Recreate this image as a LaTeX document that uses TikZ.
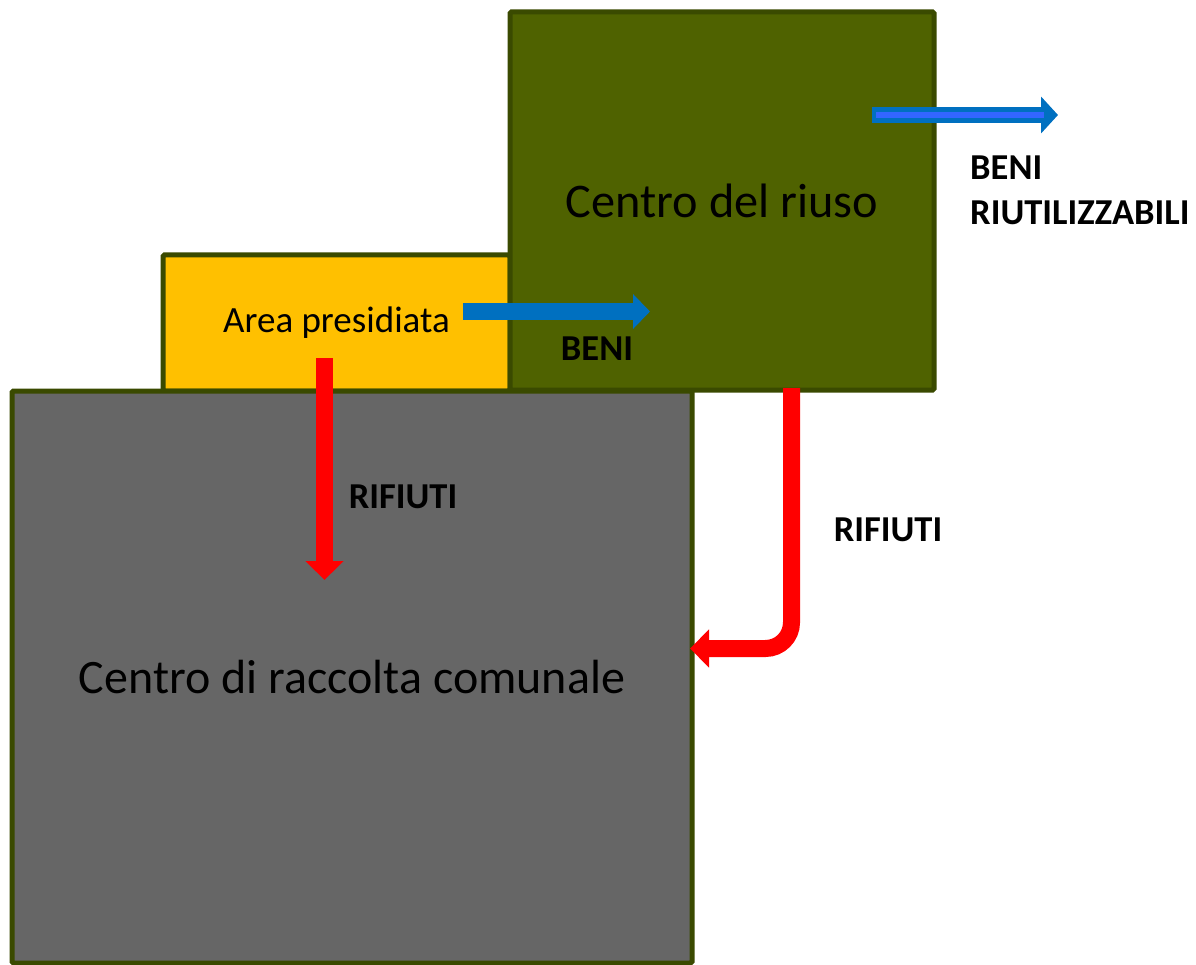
\documentclass[tikz,border=0pt]{standalone}
\usepackage{fontspec}
\setmainfont{Carlito}
\usepackage{xcolor}
\usetikzlibrary{arrows.meta}

\definecolor{olivebox}{RGB}{79,98,0}
\definecolor{olivedark}{RGB}{58,74,0}
\definecolor{yellowbox}{RGB}{255,192,0}
\definecolor{graybox}{RGB}{102,102,102}
\definecolor{bluearrow}{RGB}{0,112,192}
\definecolor{bluelight}{RGB}{51,102,255}
\definecolor{redarrow}{RGB}{255,0,0}

\tikzset{
  area/.style={draw=olivedark, line width=5pt, rounded corners=1.5pt, inner sep=0pt},
  blueflow/.style={draw=bluearrow, line width=16pt, -{Triangle[width=36pt,length=17pt]}},
  redflow/.style={draw=redarrow, line width=17pt, -{Triangle[width=37pt,length=19pt]}},
  flowlabel/.style={font=\fontsize{36.5}{45}\selectfont\bfseries, text=black, inner sep=0pt}
}

\begin{document}
\begin{tikzpicture}[x=1pt, y=-1pt]
\useasboundingbox (0,0) rectangle (1196,965);

% le tre aree
\node (presidio) [area, fill=yellowbox, minimum width=347pt, minimum height=136pt,
  font=\fontsize{37}{44}\selectfont] at (336.5,323) {Area presidiata};
\node (raccolta) [area, fill=graybox, minimum width=680pt, minimum height=572pt,
  font=\fontsize{48}{58}\selectfont] at (352,677) {Centro di raccolta comunale};
\node (riuso) [area, fill=olivebox, minimum width=424pt, minimum height=378pt,
  font=\fontsize{48.3}{58}\selectfont] at (722,201) {Centro del riuso};

% estremi delle frecce
\coordinate (beniA) at (463,311.5);
\coordinate (beniB) at (650,311.5);
\coordinate (riutA) at (872,115);
\coordinate (riutB) at (1058,115);
\coordinate (rifA) at (324.5,358);
\coordinate (rifB) at (324.5,580);
\coordinate (scartoA) at (791.5,388);
\coordinate (scartoB) at (690,648.5);

% frecce
\draw [blueflow, line width=17pt, -{Triangle[width=34pt,length=17pt]}] (beniA) -- (beniB);
\draw [blueflow] (riutA) -- (riutB);
\draw [draw=bluelight, line width=6pt] ([xshift=4pt]riutA) -- ([xshift=-14pt]riutB);
\draw [redflow] (rifA) -- (rifB);
\draw [redflow, rounded corners=26pt] (scartoA) |- (scartoB);

% etichette
\node (lbeni) [flowlabel] at (597,349) {BENI};
\node (lriuta) [flowlabel, anchor=base west] at (970,180) {BENI};
\node (lriutb) [flowlabel, anchor=base west] at (970,225) {RIUTILIZZABILI};
\node (lrif) [flowlabel] at (403,497) {RIFIUTI};
\node (lscarto) [flowlabel] at (888,530) {RIFIUTI};
\end{tikzpicture}
\end{document}
